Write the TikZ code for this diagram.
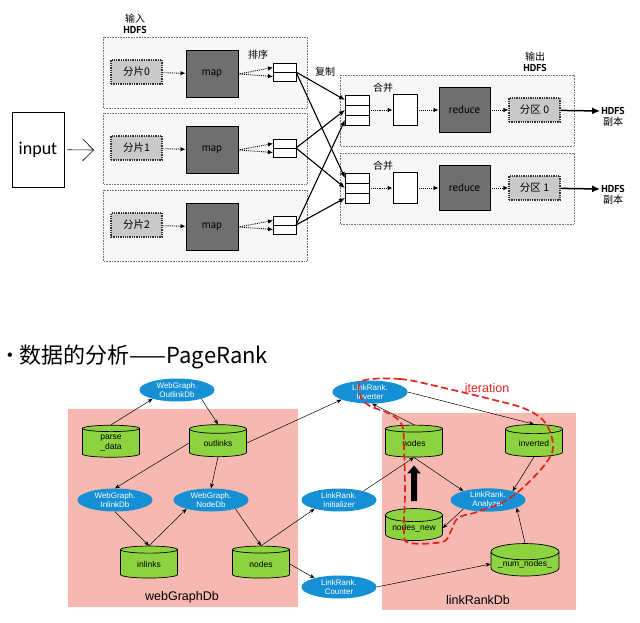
\documentclass[tikz,border=0pt]{standalone}
\usepackage{fontspec}
\setmainfont{Liberation Sans}
\newfontfamily\cjkfont{Noto Sans CJK SC}
\newfontfamily\ptfont{PT Sans}
\newfontfamily\calfont{Carlito}
\usetikzlibrary{positioning,calc,shapes.geometric,arrows.meta}
\definecolor{grpfill}{HTML}{F7F7F7}
\definecolor{splitgray}{HTML}{C9C9C9}
\definecolor{taskgray}{HTML}{6F6F6F}
\definecolor{dbpink}{HTML}{F5B9B1}
\definecolor{jobblue}{HTML}{1690D4}
\definecolor{tablegreen}{HTML}{8DD23F}
\definecolor{iterred}{HTML}{E2231D}

\begin{document}
\begin{tikzpicture}[x=1pt, y=-1pt,
  grp/.style={draw=black!55, densely dotted, line width=0.6pt, fill=grpfill},
  splitbox/.style={draw=black!80, densely dotted, line width=1.3pt, fill=splitgray,
    minimum width=51pt, minimum height=24pt, inner sep=0pt,
    font=\cjkfont\fontsize{10.5}{10.5}\selectfont},
  taskbox/.style={draw=black, line width=0.9pt, fill=taskgray,
    minimum width=52pt, minimum height=47pt, inner sep=0pt,
    font=\ptfont\fontsize{11}{11}\selectfont},
  cell/.style={draw=black, line width=0.9pt, fill=white, minimum width=23pt,
    minimum height=9pt, inner sep=0pt, outer sep=0pt},
  mergebox/.style={draw=black, line width=0.9pt, fill=white, minimum width=24pt,
    minimum height=31pt, inner sep=0pt},
  cjklabel/.style={font=\cjkfont\fontsize{10}{10}\selectfont, inner sep=1pt},
  hdfslabel/.style={font=\ptfont\bfseries\fontsize{10}{10}\selectfont, inner sep=1pt},
  dotarrow/.style={densely dotted, line width=0.9pt, -{Latex[length=5pt,width=4.5pt]}},
  copyarrow/.style={line width=1.1pt, -{Latex[length=6pt,width=5pt]}},
  outarrow/.style={line width=1.5pt, -{Latex[length=8pt,width=7pt]}},
  jobnode/.style={ellipse, fill=jobblue, text=white, minimum width=75pt, minimum height=23pt,
    inner sep=0pt, align=center, font=\fontsize{8}{9}\selectfont},
  dbtable/.style={cylinder, shape border rotate=90, aspect=0.3, draw=black, line width=0.7pt,
    fill=tablegreen, minimum width=57pt, minimum height=32pt, inner sep=0pt,
    align=center, font=\fontsize{8.5}{9.5}\selectfont},
  flow/.style={line width=0.5pt, -{Stealth[length=5pt,width=4pt]}},
  bigarrow/.style={line width=6pt, -{Triangle[length=8pt,width=13pt]},
    shorten <=7pt, shorten >=8pt},
]
\useasboundingbox (0,0) rectangle (640,623);

% MapReduce: input side
\node[draw, line width=0.6pt, minimum width=52pt, minimum height=75pt, inner sep=0pt,
  font=\calfont\fontsize{18}{18}\selectfont] (input) at (38,149.5) {input};
\coordinate (inhdfs) at (94,150);
\draw[line width=0.6pt, -{Straight Barb[length=11pt,width=22pt]}, shorten <=3pt] (input) -- (inhdfs);

\foreach \i/\y in {0/72,1/148,2/225} {
  \draw[grp] (103,\y-35) rectangle (307,\y+36);
  \node[splitbox] (split\i) at (136.5,\y) {分片\i};
  \node[taskbox] (map\i) at (212,\y+2) {map};
  \node[cell] (sa\i) at (284.5,\y-4.5) {};
  \node[cell] (sb\i) at (284.5,\y+4.5) {};
  \draw[dotarrow] (split\i) -- (map\i);
  \draw[dotarrow] (map\i.east) -- (sa\i.west);
  \draw[dotarrow] (map\i.east) -- (sb\i.west);
}
\node[cjklabel] (inlabel) at (135,19) {输入};
\node[hdfslabel] (inhdfslabel) at (135,30) {HDFS};
\node[cjklabel] (sortlabel) at (258,55) {排序};
\node[cjklabel] (copylabel) at (325,72) {复制};

% MapReduce: output side
\foreach \j/\y in {0/110,1/188} {
  \draw[grp] (340,\y-35) rectangle (574,\y+36);
  \node[cell, minimum width=24pt, minimum height=10pt] (mc\j0) at (357,\y-10) {};
  \node[cell, minimum width=24pt, minimum height=10pt] (mc\j1) at (357,\y) {};
  \node[cell, minimum width=24pt, minimum height=10pt] (mc\j2) at (357,\y+10) {};
  \node[mergebox] (merged\j) at (405,\y) {};
  \node[taskbox, minimum width=51pt, minimum height=45pt] (reduce\j) at (464.5,\y) {reduce};
  \node[splitbox] (part\j) at (534.5,\y) {分区 \j};
  \node[hdfslabel] (hdfs\j) at (613,\y+1) {HDFS};
  \node[cjklabel] (copy\j) at (613,\y+12) {副本};
  \node[cjklabel] (mergelabel\j) at (383,\y-22) {合并};
  \draw[dotarrow] (mc\j1.east) -- (merged\j);
  \draw[dotarrow] (merged\j) -- (reduce\j);
  \draw[dotarrow] (reduce\j) -- (part\j);
  \draw[outarrow] (part\j) -- (hdfs\j.west);
}
\node[cjklabel] (outlabel) at (535,57) {输出};
\node[hdfslabel] (outhdfslabel) at (535,68) {HDFS};

\foreach \i in {0,1,2} {
  \draw[copyarrow] (sa\i.south east) -- (mc0\i.west);
  \draw[copyarrow] (sa\i.south east) -- (mc1\i.west);
}

% PageRank
\node[anchor=west, inner sep=0pt, font=\cjkfont\fontsize{22}{22}\selectfont] (title) at (7,357)
  {\raisebox{3pt}{\normalfont\fontsize{16}{16}\selectfont •}\hspace{7pt}数据的分析——PageRank};
\fill[dbpink] (68,409) rectangle (298,607);
\fill[dbpink] (382,413) rectangle (576,610);
\node[font=\fontsize{12.5}{13}\selectfont] (webdb) at (182,597) {webGraphDb};
\node[font=\fontsize{12.5}{13}\selectfont] (rankdb) at (478,600) {linkRankDb};

\node[jobnode] (outlinkdb) at (177,390) {WebGraph.\\OutlinkDb};
\node[jobnode] (inlinkdb) at (115,500) {WebGraph.\\InlinkDb};
\node[jobnode] (nodedb) at (211,500) {WebGraph.\\NodeDb};
\node[jobnode] (inverter) at (370,392) {LinkRank.\\Inverter};
\node[jobnode] (initializer) at (339,500) {LinkRank.\\Initializer};
\node[jobnode] (counter) at (339,587) {LinkRank.\\Counter};
\node[jobnode] (analyzer) at (488,500) {LinkRank.\\Analyzer};

\node[dbtable] (parse) at (111,443) {parse\\\_data};
\node[dbtable] (outlinks) at (218,443) {outlinks};
\node[dbtable] (inlinks) at (149,564) {inlinks};
\node[dbtable] (nodesl) at (261,564) {nodes};
\node[dbtable] (nodesr) at (414,443) {nodes};
\node[dbtable] (inverted) at (534,443) {inverted};
\node[dbtable] (nodesnew) at (414,528) {nodes\_new};
\node[dbtable, minimum width=68pt] (numnodes) at (525,564) {\_num\_nodes\_};

\draw[flow] (parse.north) -- (outlinkdb.200);
\draw[flow] (outlinkdb.-20) -- (outlinks.north);
\draw[flow] (outlinks.west) -- (inlinkdb.north);
\draw[flow] (outlinks.south) -- (nodedb.north);
\draw[flow] (inlinkdb.south) -- (inlinks.north);
\draw[flow] (inlinks.north) -- (nodedb.200);
\draw[flow] (nodedb.-20) -- (nodesl.north);
\draw[flow] (outlinks.east) -- (inverter.195);
\draw[flow] (nodesl.north) -- (initializer.200);
\draw[flow] (nodesl.east) -- (counter.160);
\draw[flow] (inverter.east) -- (inverted.north);
\draw[flow] (nodesr.north) -- (inverter.-80);
\draw[flow] (initializer.20) -- (nodesr.south);
\draw[flow] (nodesr.south) -- (analyzer.160);
\draw[flow] (inverted.south) -- (analyzer.20);
\draw[flow] (analyzer.200) -- (nodesnew.east);
\draw[flow] (numnodes.north) -- (analyzer.-15);
\draw[flow] (counter.east) -- (numnodes.west);
\draw[bigarrow] (nodesnew.north) -- (nodesr.south);

% iteration loop
\draw[iterred, line width=1.7pt, dash pattern=on 7pt off 3.5pt]
  plot[smooth cycle, tension=0.6] coordinates {
    (362,381) (400,379) (440,387) (490,399) (523,408) (543,420) (552,438)
    (551,455) (533,478) (507,500) (477,512) (458,518) (450,533) (442,542)
    (410,543) (404,533) (405,493) (404,447) (402,425) (390,414) (370,406) (361,397)};
\node[text=iterred, font=\fontsize{12.5}{13}\selectfont] (iterlabel) at (487,388) {iteration};
\end{tikzpicture}
\end{document}
